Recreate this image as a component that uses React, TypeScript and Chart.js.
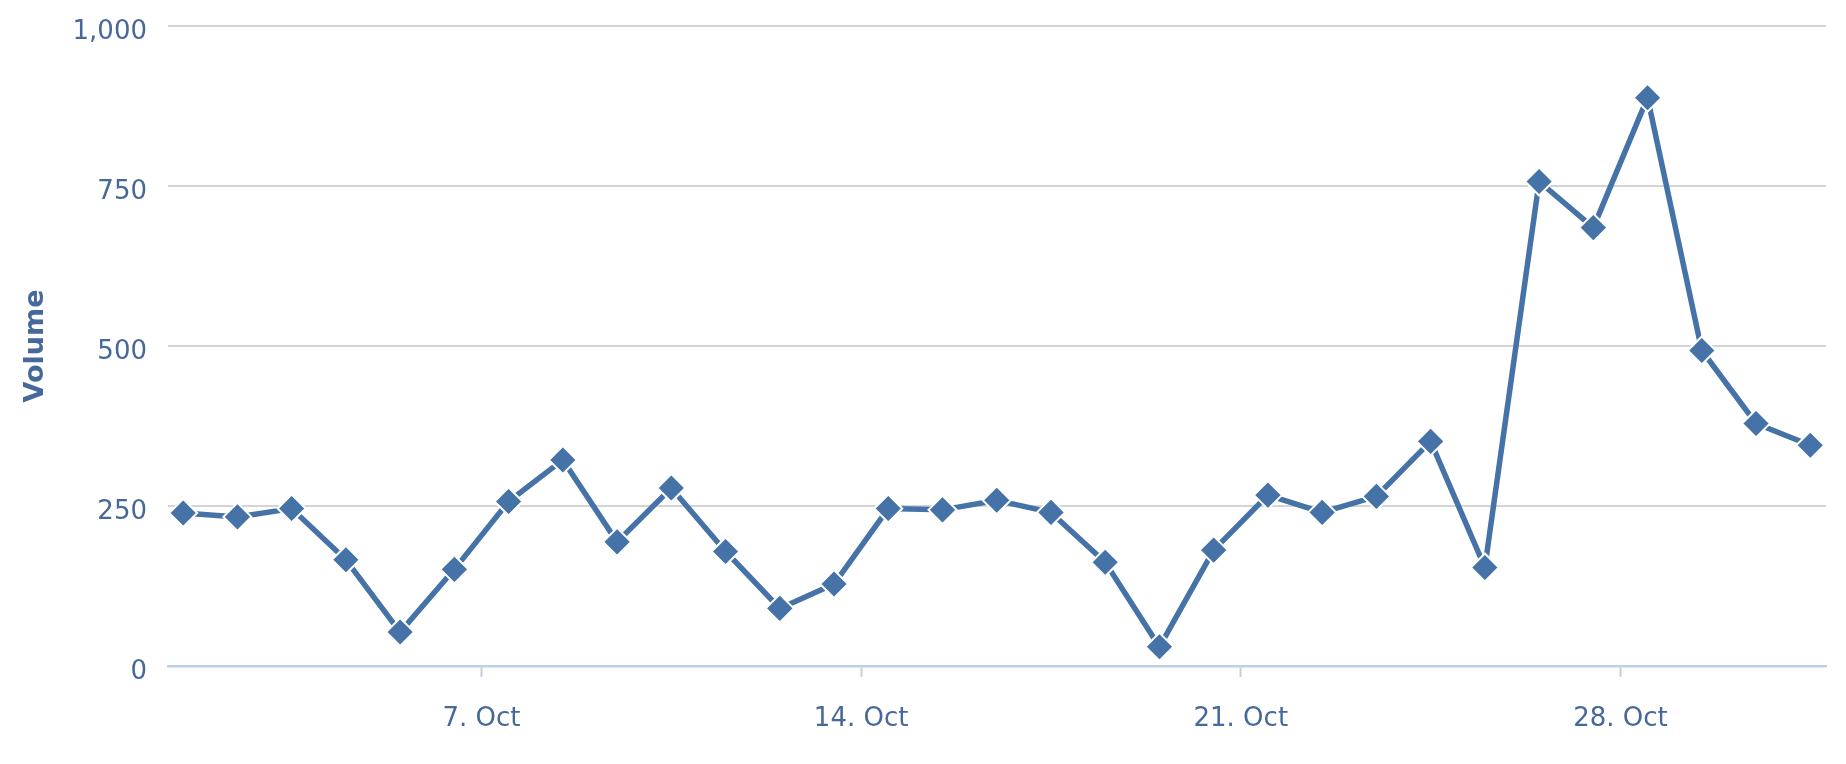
import React, { useEffect, useRef } from 'react';
import { Chart, registerables } from 'chart.js';

Chart.register(...registerables);

// Day of month (October) for each sample
const DAYS = [1, 2, 3, 4, 5, 6, 7, 8, 9, 10, 11, 12, 13, 14, 15, 16, 17, 18, 19, 20, 21, 22, 23, 24, 25, 26, 27, 28, 29, 30, 31];
// Daily volume
const VOLUME = [239, 233, 246, 166, 53, 151, 257, 322, 194, 278, 179, 90, 128, 246, 244, 259, 240, 162, 30, 181, 267, 240, 265, 351, 154, 757, 685, 888, 493, 379, 345];
// Samples are taken at midday
const SAMPLE_HOUR = 12;
// X-axis tick days and month label
const X_TICK_DAYS = [7, 14, 21, 28];
const MONTH_LABEL = 'Oct';
// Y-axis ticks
const Y_TICKS = [0, 250, 500, 750, 1000];
const Y_TITLE = 'Volume';

const LINE_COLOR = '#4572A7';
const TEXT_COLOR = '#46699A';
const FONT_FAMILY = '"DejaVu Sans", "Lucida Grande", sans-serif';

export default function App() {
  const canvasRef = useRef<HTMLCanvasElement | null>(null);

  useEffect(() => {
    if (!canvasRef.current) return;
    const points = DAYS.map((d, i) => ({ x: d + SAMPLE_HOUR / 24, y: VOLUME[i] }));
    const chart = new Chart(canvasRef.current, {
      type: 'line',
      data: {
        datasets: [
          {
            label: Y_TITLE,
            data: points,
            borderColor: LINE_COLOR,
            borderWidth: 5.5,
            tension: 0,
            pointStyle: 'rectRot',
            pointRadius: 14,
            pointBackgroundColor: LINE_COLOR,
            pointBorderColor: '#FFFFFF',
            pointBorderWidth: 2,
          },
        ],
      },
      options: {
        responsive: true,
        maintainAspectRatio: false,
        animation: false,
        layout: { padding: { top: 26, right: 20, left: 0, bottom: 0 } },
        plugins: {
          legend: { display: false },
          tooltip: { enabled: false },
        },
        scales: {
          x: {
            type: 'linear',
            min: DAYS[0] + SAMPLE_HOUR / 24 - 0.28,
            max: DAYS[DAYS.length - 1] + SAMPLE_HOUR / 24 + 0.29,
            afterBuildTicks: (s: any) => {
              s.ticks = X_TICK_DAYS.map((v) => ({ value: v }));
            },
            afterFit: (s: any) => {
              s.height = 98;
            },
            ticks: {
              callback: (v: any) => `${v}. ${MONTH_LABEL}`,
              color: TEXT_COLOR,
              font: { family: FONT_FAMILY, size: 26 },
              padding: 27,
              maxRotation: 0,
              autoSkip: false,
            },
            grid: {
              drawOnChartArea: false,
              drawTicks: true,
              tickLength: 11,
              tickColor: '#C0D0E0',
              tickWidth: 2,
            },
            border: { display: true, color: '#C0D0E0', width: 2.5 },
          },
          y: {
            min: 0,
            max: 1000,
            afterBuildTicks: (s: any) => {
              s.ticks = Y_TICKS.map((v) => ({ value: v }));
            },
            afterFit: (s: any) => {
              s.width = 168;
              s.paddingTop = 0;
              s.paddingBottom = 0;
            },
            ticks: {
              callback: (v: any) => Number(v).toLocaleString('en-US'),
              color: TEXT_COLOR,
              font: { family: FONT_FAMILY, size: 26 },
              padding: 21,
              labelOffset: 6,
            },
            grid: { color: '#D4D4D4', lineWidth: 2, drawTicks: false },
            border: { display: false },
            title: {
              display: true,
              text: Y_TITLE,
              color: TEXT_COLOR,
              font: { family: FONT_FAMILY, size: 27, weight: 'bold' },
              padding: { top: 20, bottom: 0 },
            },
          },
        },
      },
    });
    return () => chart.destroy();
  }, []);

  return (
    <div style={{ position: 'absolute', left: 0, top: 0, width: 1846, height: 764, background: '#FFFFFF' }}>
      <canvas ref={canvasRef} />
    </div>
  );
}
